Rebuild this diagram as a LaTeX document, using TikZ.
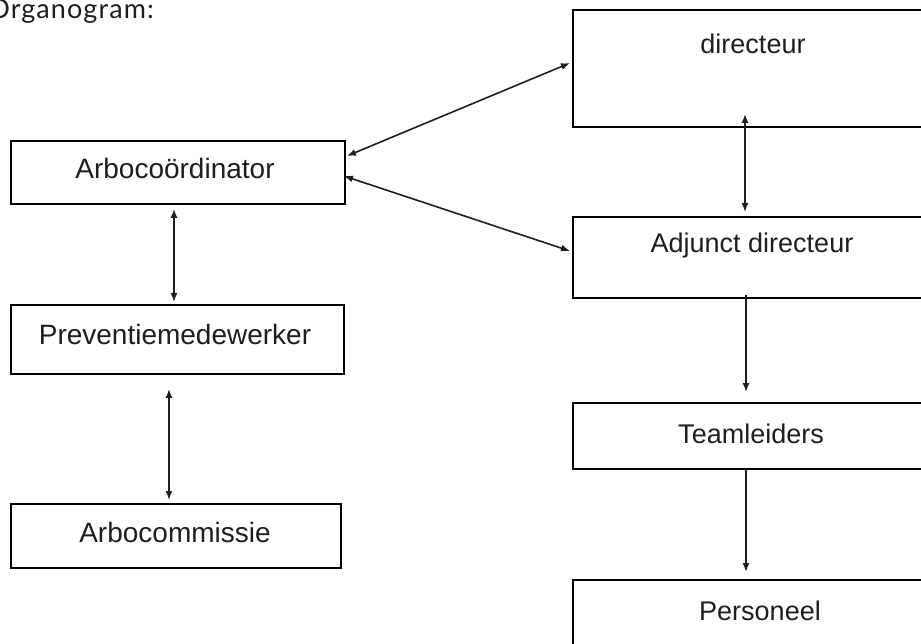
\documentclass[tikz,border=0pt]{standalone}
\usepackage{fontspec}
\setmainfont{Liberation Sans}
\newfontfamily\headfont[LetterSpace=4]{Lato}
\usetikzlibrary{arrows.meta,calc}
\definecolor{ink}{HTML}{1E1E1E}
\tikzset{
  box/.style={draw=black, line width=1.9pt, inner sep=0pt, anchor=north west},
  lbl/.style={text=ink, inner sep=0pt, font=\fontsize{28}{34}\selectfont},
  rlbl/.style={text=ink, inner sep=0pt, font=\fontsize{27}{33}\selectfont},
  conn/.style={draw=ink, line width=1.6pt},
  tip/.style={-{Latex[length=9pt,width=7pt]}},
  both/.style={{Latex[length=9pt,width=7pt]}-{Latex[length=9pt,width=7pt]}}
}
\begin{document}
\begin{tikzpicture}[x=1pt,y=-1pt]
\useasboundingbox (0,0) rectangle (921,644);
\clip (0,0) rectangle (921,644);
% heading
\node[anchor=base east, inner sep=0pt, text=ink, font=\headfont\fontsize{27}{31}\selectfont] (head) at (154,19) {Organogram:};
% left column
\node[box, minimum width=334pt, minimum height=63pt] (arbo) at (10,140) {};
\node[lbl] (arboT) at (175,168) {Arbocoördinator};
\node[box, minimum width=333pt, minimum height=69pt] (prev) at (10,304) {};
\node[lbl] (prevT) at (175,334) {Preventiemedewerker};
\node[box, minimum width=330pt, minimum height=64pt] (comm) at (10,503) {};
\node[lbl] (commT) at (175,532) {Arbocommissie};
% right column
\node[box, minimum width=360pt, minimum height=117pt] (dir) at (572,9) {};
\node[rlbl] (dirT) at (753,44) {directeur};
\node[box, minimum width=360pt, minimum height=81pt] (adj) at (572,216) {};
\node[rlbl] (adjT) at (752,246) {Adjunct directeur};
\node[box, minimum width=360pt, minimum height=66pt] (team) at (572,402) {};
\node[rlbl] (teamT) at (751,434) {Teamleiders};
\node[box, minimum width=360pt, minimum height=90pt] (pers) at (572,579) {};
\node[rlbl] (persT) at (760,611) {Personeel};
% connectors
\draw[conn,both] ($(arbo.north east)+(1,16)$) -- ($(dir.north west)+(-2,54)$);
\draw[conn,both] ($(arbo.north east)+(-2,36)$) -- ($(adj.north west)+(-2,35)$);
\draw[conn,both] ($(dir.south west)+(173,-14)$) -- ($(adj.north west)+(173,-4)$);
\draw[conn,tip] ($(adj.south west)+(174,-4)$) -- ($(team.north west)+(174,-10)$);
\draw[conn,tip] ($(team.south west)+(174,0)$) -- ($(pers.north west)+(174,-7)$);
\draw[conn,both] ($(arbo.south west)+(164,4)$) -- ($(prev.north west)+(164,-2)$);
\draw[conn,both] ($(prev.south west)+(159,14)$) -- ($(comm.north west)+(159,-3)$);
\end{tikzpicture}
\end{document}
